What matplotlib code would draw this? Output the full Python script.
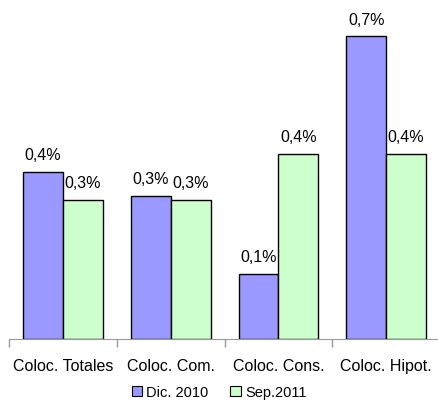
import numpy as np
import matplotlib.pyplot as plt
from matplotlib.patches import Patch

categories = ['Coloc. Totales', 'Coloc. Com.', 'Coloc. Cons.', 'Coloc. Hipot.']
dic_2010 = [0.387, 0.331, 0.150, 0.700]
sep_2011 = [0.322, 0.322, 0.429, 0.429]
series_names = ['Dic. 2010', 'Sep.2011']
colors = ['#9999FF', '#CCFFCC']

plt.rcParams['font.family'] = ['Liberation Sans', 'DejaVu Sans']

fig = plt.figure(figsize=(4.38, 4.10), dpi=100)
ax = fig.add_axes([9.3 / 438, 70 / 410, 430.7 / 438, 330 / 410])

x = np.arange(len(categories))
w = 0.371
for vals, off, col in [(dic_2010, -w / 2, colors[0]), (sep_2011, w / 2, colors[1])]:
    bars = ax.bar(x + off, vals, w, color=col, edgecolor='black', linewidth=1.0)
    for b, v in zip(bars, vals):
        ax.annotate(f'{v:.1f}'.replace('.', ',') + '%',
                    (b.get_x() + b.get_width() / 2, v),
                    xytext=(0, 7), textcoords='offset points',
                    ha='center', va='bottom', fontsize=11.5)

ax.set_xlim(-0.5, len(categories) - 0.5)
ax.set_ylim(0, 330 / 432.4)

for s in ['top', 'right', 'left']:
    ax.spines[s].set_visible(False)
ax.spines['bottom'].set_color('#999999')
ax.set_yticks([])

ax.set_xticks(x)
ax.set_xticklabels(categories, fontsize=11.5)
ax.tick_params(axis='x', which='major', length=0, pad=14)
ax.set_xticks(np.arange(len(categories)) - 0.5, minor=True)
ax.tick_params(axis='x', which='minor', length=6, color='#999999', width=1)

handles = [Patch(facecolor=c, edgecolor='black', linewidth=0.8) for c in colors]
fig.legend(handles, series_names, loc='center', bbox_to_anchor=(0.5, 17 / 410),
           ncol=2, frameon=False, fontsize=10.5, handlelength=0.7, handleheight=0.7,
           handletextpad=0.3, columnspacing=1.5)

fig.savefig('out.png', dpi=100)
